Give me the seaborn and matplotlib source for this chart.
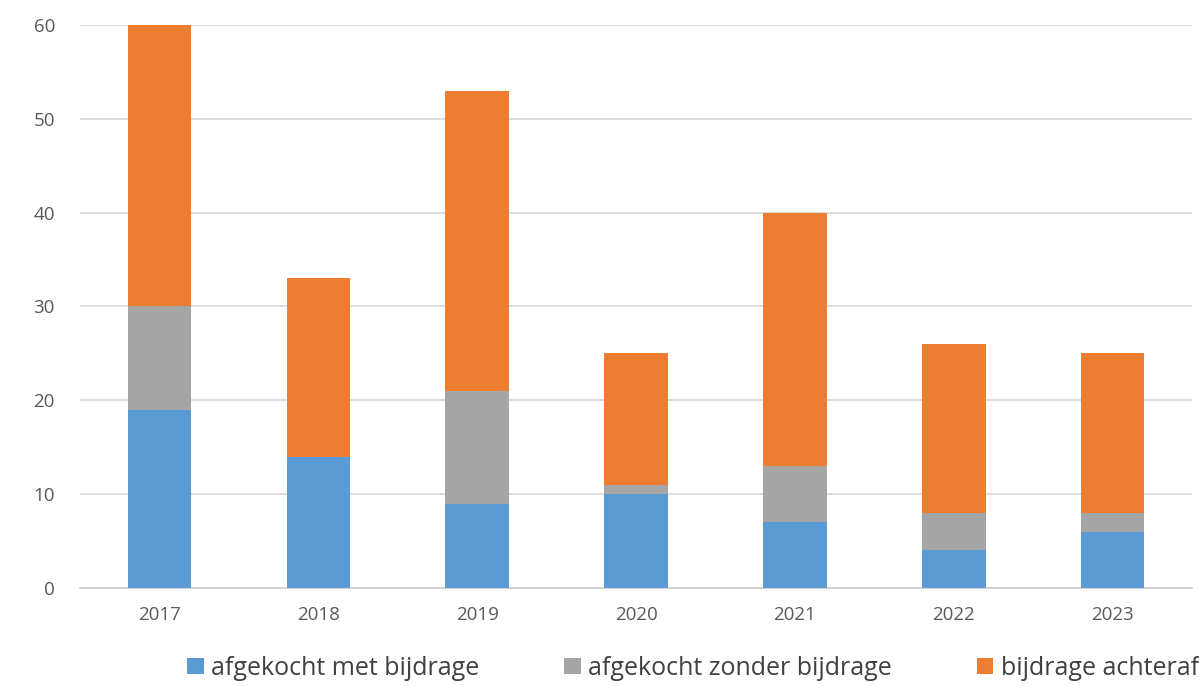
import numpy as np
import pandas as pd
import matplotlib
matplotlib.use("Agg")
import matplotlib.pyplot as plt
import seaborn as sns
from matplotlib.patches import Patch

jaren = ["2017", "2018", "2019", "2020", "2021", "2022", "2023"]
met_bijdrage = [19, 14, 9, 10, 7, 4, 6]
zonder_bijdrage = [11, 0, 12, 1, 6, 4, 2]
achteraf = [30, 19, 32, 14, 27, 18, 17]
labels = ["afgekocht met bijdrage", "afgekocht zonder bijdrage", "bijdrage achteraf"]
kleuren = ["#5b9bd5", "#a5a5a5", "#ed7d31"]

sns.set_style("white")
plt.rcParams["font.family"] = ["Open Sans", "DejaVu Sans"]

df = pd.DataFrame({"jaar": jaren, "blauw": met_bijdrage,
                   "grijs": zonder_bijdrage, "oranje": achteraf})
df["tot_grijs"] = df["blauw"] + df["grijs"]
df["tot_oranje"] = df["tot_grijs"] + df["oranje"]

fig = plt.figure(figsize=(11.99, 6.86), dpi=100)
ax = fig.add_axes([0.0667, 0.1429, 0.9275, 0.8207])

# gestapeld: totalen over elkaar tekenen
sns.barplot(data=df, x="jaar", y="tot_oranje", color=kleuren[2], width=0.4,
            saturation=1, ax=ax, zorder=3)
sns.barplot(data=df, x="jaar", y="tot_grijs", color=kleuren[1], width=0.4,
            saturation=1, ax=ax, zorder=3)
sns.barplot(data=df, x="jaar", y="blauw", color=kleuren[0], width=0.4,
            saturation=1, ax=ax, zorder=3)
for p in ax.patches:
    p.set_linewidth(0)

ax.set_xlim(-0.5, len(jaren) - 0.5)
ax.set_ylim(0, 60)
ax.set_yticks(range(0, 61, 10))
ax.yaxis.grid(True, color="#d9d9d9", lw=1.3, zorder=0)
ax.set_axisbelow(True)
ax.set_xlabel("")
ax.set_ylabel("")

for s in ["top", "right", "left"]:
    ax.spines[s].set_visible(False)
ax.spines["bottom"].set_color("#d0d0d0")
ax.spines["bottom"].set_linewidth(1.3)

ax.tick_params(axis="y", length=0, pad=18, labelsize=13.5, labelcolor="#595959")
ax.tick_params(axis="x", which="major", length=0, pad=13, labelsize=13.5,
               labelcolor="#595959")
ax.set_xticks(np.arange(-0.5, len(jaren)), minor=True)
ax.tick_params(axis="x", which="minor", length=8, color="#d0d0d0", width=1.3)

handles = [Patch(facecolor=c, edgecolor="none") for c in kleuren]
fig.legend(handles, labels, loc="center", bbox_to_anchor=(0.578, 0.026),
           ncol=3, frameon=False, fontsize=18, handlelength=0.65,
           handleheight=0.65, handletextpad=0.3, columnspacing=3.4,
           labelcolor="#404040")

fig.savefig("out.png", dpi=100, facecolor="white")
